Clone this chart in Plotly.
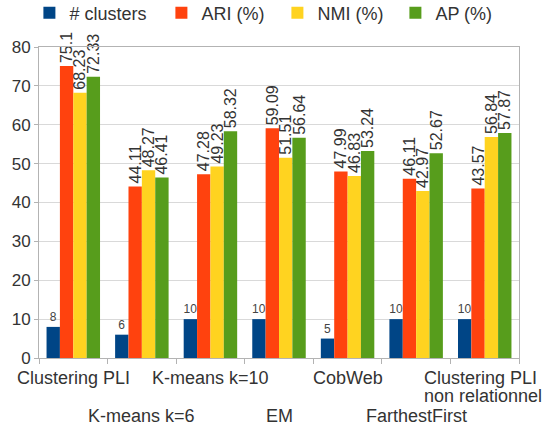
import plotly.graph_objects as go

categories = ["Clustering PLI", "K-means k=6", "K-means k=10", "EM", "CobWeb",
              "FarthestFirst", "Clustering PLI non relationnel"]
clusters = [8, 6, 10, 10, 5, 10, 10]
ari = [75.1, 44.11, 47.28, 59.09, 47.99, 46.11, 43.57]
nmi = [68.23, 48.27, 49.23, 51.51, 46.83, 42.97, 56.84]
ap = [72.33, 46.41, 58.32, 56.64, 53.24, 52.67, 57.87]

series_names = ["# clusters", "ARI (%)", "NMI (%)", "AP (%)"]
series_values = [clusters, ari, nmi, ap]
colors = ["#004586", "#ff420e", "#ffd320", "#579d1c"]
legend_widths = [87, 71, 73, 60]

FONT = "Liberation Sans, Arial, sans-serif"
TEXT = "#333333"

fig = go.Figure()
for i, (name, vals) in enumerate(zip(series_names, series_values)):
    is_count = i == 0
    fig.add_trace(go.Bar(
        name=name,
        x=categories,
        y=vals,
        marker=dict(color=colors[i], line=dict(width=0)),
        text=[f"{v:g}" for v in vals],
        textposition="outside",
        textangle=0 if is_count else -90,
        textfont=dict(family=FONT, size=12 if is_count else 16,
                      color="#444444" if is_count else TEXT),
        constraintext="none",
        cliponaxis=False,
        legendwidth=legend_widths[i],
        hoverinfo="x+y+name",
    ))

# staggered category labels
annotations = []
for i, cat in enumerate(categories):
    if i == len(categories) - 1:
        lines = ["Clustering PLI", "non relationnel"]
        for j, ln in enumerate(lines):
            annotations.append(dict(
                x=cat, xref="x", y=0, yref="paper", text=ln,
                showarrow=False, xanchor="left", yanchor="middle",
                xshift=-62, yshift=-20 - 18 * j, borderpad=0,
                font=dict(family=FONT, size=18, color=TEXT)))
    else:
        annotations.append(dict(
            x=cat, xref="x", y=0, yref="paper", text=cat,
            showarrow=False, xanchor="center", yanchor="middle",
            yshift=-20 if i % 2 == 0 else -58, borderpad=0,
            font=dict(family=FONT, size=18, color=TEXT)))

fig.update_layout(
    width=543, height=429,
    margin=dict(l=39, r=24, t=47, b=70.5, pad=0, autoexpand=False),
    paper_bgcolor="white", plot_bgcolor="white",
    barmode="group", bargap=0.22, bargroupgap=0,
    font=dict(family=FONT, size=17, color=TEXT),
    showlegend=True,
    legend=dict(orientation="h", x=-0.02, xanchor="left", y=1.109, yanchor="middle",
                font=dict(family=FONT, size=18, color=TEXT),
                bgcolor="rgba(0,0,0,0)", itemwidth=30, traceorder="normal"),
    annotations=annotations,
    xaxis=dict(
        type="category", showticklabels=False, range=[-0.5, 6.5], autorange=False,
        tickson="boundaries", ticks="outside", ticklen=5, tickcolor="#b3b3b3",
        showline=True, linecolor="#b3b3b3", linewidth=1, mirror=True,
        showgrid=False, zeroline=False,
    ),
    yaxis=dict(
        range=[0, 80], dtick=10, tick0=0, autorange=False,
        ticks="outside", ticklen=4, tickcolor="#b3b3b3",
        showline=True, linecolor="#b3b3b3", linewidth=1, mirror=True,
        showgrid=True, gridcolor="#d9d9d9", gridwidth=1, zeroline=False,
        tickfont=dict(family=FONT, size=17, color=TEXT),
    ),
)

fig.write_html(
    "out.html",
    config={"displayModeBar": False},
    post_script="document.body.style.margin='0px';document.body.style.overflow='hidden';",
)
